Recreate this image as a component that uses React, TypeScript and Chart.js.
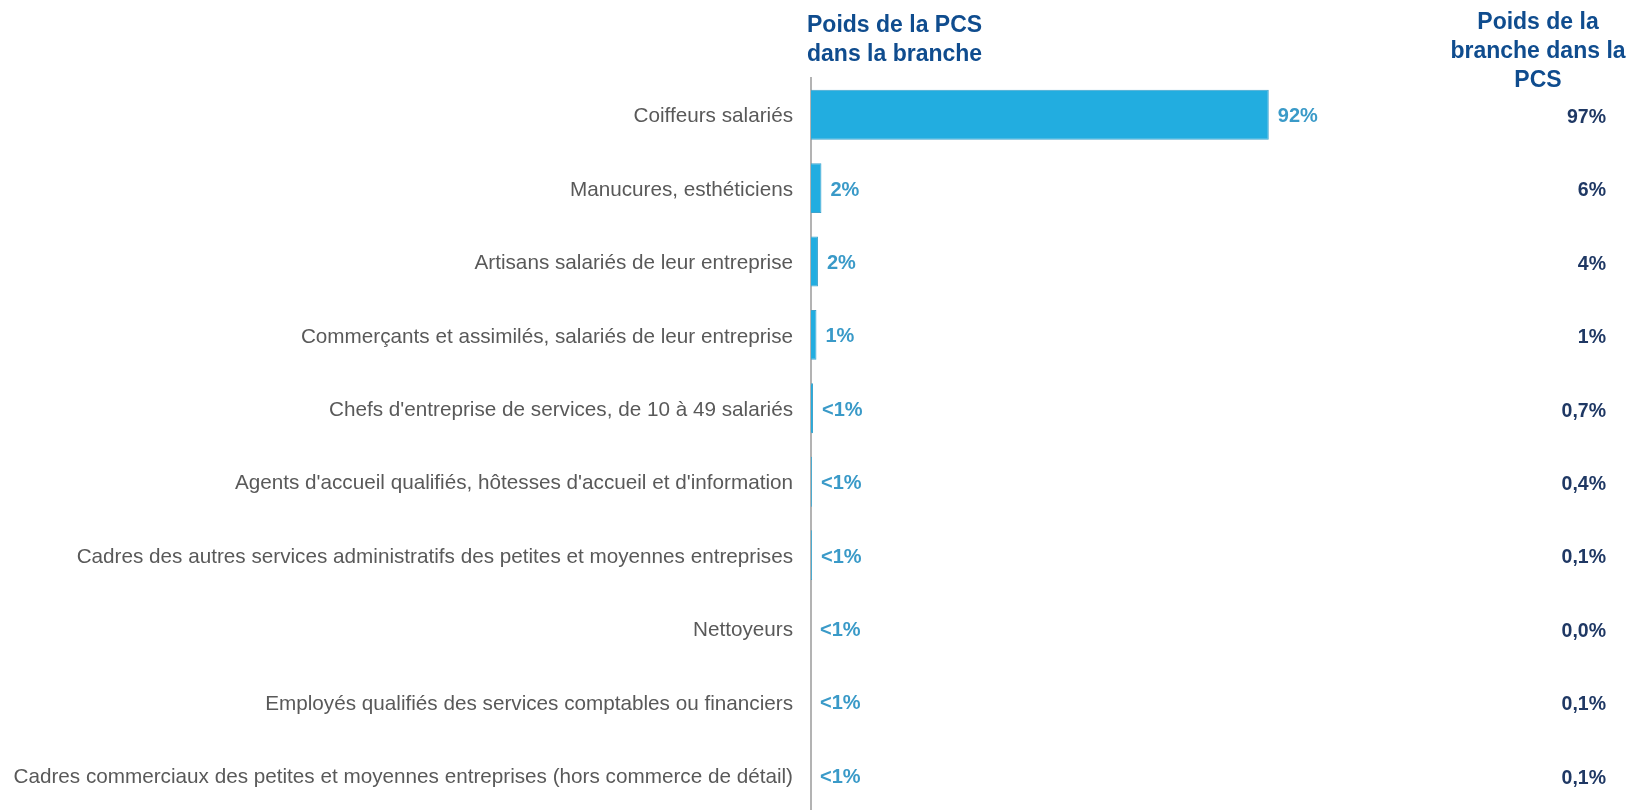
import React, { useEffect, useRef } from "react";
import { Chart, registerables } from "chart.js";

Chart.register(...registerables);

const categories = [
  "Coiffeurs salariés",
  "Manucures, esthéticiens",
  "Artisans salariés de leur entreprise",
  "Commerçants et assimilés, salariés de leur entreprise",
  "Chefs d'entreprise de services, de 10 à 49 salariés",
  "Agents d'accueil qualifiés, hôtesses d'accueil et d'information",
  "Cadres des autres services administratifs des petites et moyennes entreprises",
  "Nettoyeurs",
  "Employés qualifiés des services comptables ou financiers",
  "Cadres commerciaux des petites et moyennes entreprises (hors commerce de détail)",
];

// Poids de la PCS dans la branche (%)
const pcsInBranch = [92, 2.1, 1.4, 1.1, 0.4, 0.2, 0.2, 0, 0, 0];
const pcsInBranchLabels = ["92%", "2%", "2%", "1%", "<1%", "<1%", "<1%", "<1%", "<1%", "<1%"];

// Poids de la branche dans la PCS
const branchInPcsLabels = ["97%", "6%", "4%", "1%", "0,7%", "0,4%", "0,1%", "0,0%", "0,1%", "0,1%"];

const headerLeft = ["Poids de la PCS", "dans la branche"];
const headerRight = ["Poids de la", "branche dans la", "PCS"];

const xMax = 165;

const FONT = "'Liberation Sans', Arial, Helvetica, sans-serif";

export default function App() {
  const ref = useRef<HTMLCanvasElement | null>(null);

  useEffect(() => {
    if (!ref.current) return;
    const labelsPlugin = {
      id: "customLabels",
      afterDatasetsDraw(chart: any) {
        const ctx = chart.ctx;
        const meta = chart.getDatasetMeta(0);
        const yScale = chart.scales.y;
        ctx.save();
        ctx.textBaseline = "middle";
        meta.data.forEach((bar: any, i: number) => {
          ctx.font = `bold 20px ${FONT}`;
          ctx.fillStyle = "#3A9AC8";
          ctx.textAlign = "left";
          ctx.fillText(pcsInBranchLabels[i], bar.x + 9, bar.y + 2);
          const y = yScale.getPixelForValue(i);
          ctx.font = `bold 19.5px ${FONT}`;
          ctx.fillStyle = "#1F3864";
          ctx.textAlign = "right";
          ctx.fillText(branchInPcsLabels[i], 1606, y + 3);
        });
        ctx.font = `bold 23px ${FONT}`;
        ctx.fillStyle = "#0F4C8E";
        ctx.textBaseline = "alphabetic";
        ctx.textAlign = "left";
        headerLeft.forEach((t, i) => ctx.fillText(t, 807, 31.7 + i * 29.3));
        ctx.textAlign = "center";
        headerRight.forEach((t, i) => ctx.fillText(t, 1538, 29.3 + i * 29));
        ctx.restore();
      },
    };

    const chart = new Chart(ref.current, {
      type: "bar",
      data: {
        labels: categories,
        datasets: [
          {
            data: pcsInBranch,
            backgroundColor: "#22ADE0",
            borderColor: "#3FA3CC",
            borderWidth: 1,
            barPercentage: 0.68,
            categoryPercentage: 1,
          },
        ],
      },
      options: {
        indexAxis: "y",
        responsive: false,
        animation: false,
        devicePixelRatio: 1,
        layout: { padding: { top: 78, bottom: 38, left: 0, right: 0 } },
        plugins: { legend: { display: false }, tooltip: { enabled: false } },
        scales: {
          x: { display: false, min: 0, max: xMax },
          y: {
            grid: { display: true, drawOnChartArea: false, drawTicks: false, color: "rgba(0,0,0,0)" },
            border: { display: true, color: "#B3B3B3", width: 2 },
            ticks: {
              color: "#595959",
              padding: 18,
              labelOffset: 2,
              font: { family: FONT, size: 20.7 },
            },
            afterFit(scale: any) {
              scale.width = 811;
            },
          },
        },
      },
      plugins: [labelsPlugin],
    } as any);
    return () => chart.destroy();
  }, []);

  return (
    <div style={{ position: "fixed", left: 0, top: 0, width: 1632, height: 810, overflow: "hidden", background: "#fff" }}>
      <canvas ref={ref} width={1632} height={850} style={{ display: "block" }} />
    </div>
  );
}
